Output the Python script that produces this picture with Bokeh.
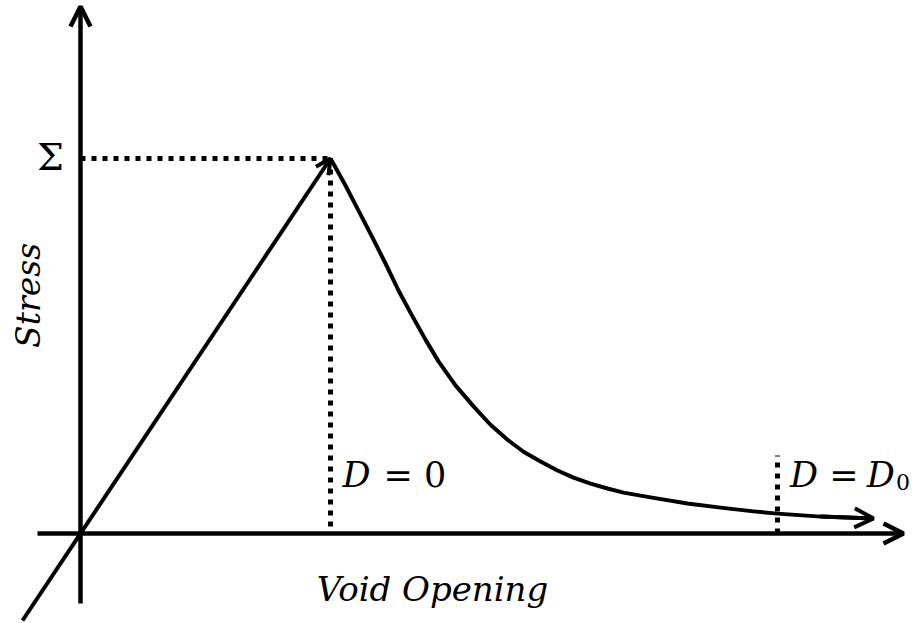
from bokeh.plotting import figure
from bokeh.models import Arrow, OpenHead, Label, Range1d
from bokeh.embed import file_html
from bokeh.resources import INLINE

# Normalised units: opening and stress are scaled so that the peak sits at (1, 1)
peak_opening = 1.0
peak_stress = 1.0

# Elastic loading branch, drawn through the origin
load_opening = [-0.232, 1.0]
load_stress = [-0.232, 1.0]

# Softening branch after the peak (damage growing from D = 0 to D = D0)
soft_opening = [1.0, 1.06, 1.112, 1.168, 1.22, 1.272, 1.328, 1.38, 1.432, 1.5,
                1.572, 1.64, 1.708, 1.772, 1.84, 1.908, 1.972, 2.04, 2.108, 2.172,
                2.24, 2.292, 2.428, 2.56, 2.692, 2.788, 2.96, 3.172]
soft_stress = [1.0, 0.928, 0.861, 0.789, 0.72, 0.648, 0.579, 0.517, 0.459, 0.395,
               0.339, 0.290, 0.250, 0.218, 0.192, 0.168, 0.149, 0.133, 0.12, 0.109,
               0.101, 0.095, 0.08, 0.069, 0.059, 0.053, 0.045, 0.040]

# Opening at which the damage reaches D0
d0_opening = 2.788

# Axis extents (hand-drawn axes with arrow heads)
x_axis_span = [-0.172, 3.292]
y_axis_span = [-0.187, 1.405]

INK = "black"
SERIF = "DejaVu Serif"
DOTS = "5 6"

p = figure(width=914, height=623, output_backend="svg", toolbar_location=None,
           x_range=Range1d(-0.32, 3.336), y_range=Range1d(-0.24, 1.4213),
           x_axis_location=None, y_axis_location=None,
           min_border=0, min_border_left=0, min_border_right=0,
           min_border_top=0, min_border_bottom=0)
p.grid.visible = False
p.outline_line_color = None
p.background_fill_color = "white"
p.border_fill_color = "white"

# Axes with open arrow heads
p.add_layout(Arrow(end=OpenHead(size=20, line_width=4.5, line_color=INK),
                   x_start=x_axis_span[0], y_start=0, x_end=x_axis_span[1], y_end=0,
                   line_width=4.5, line_color=INK))
p.add_layout(Arrow(end=OpenHead(size=20, line_width=4.5, line_color=INK),
                   x_start=0, y_start=y_axis_span[0], x_end=0, y_end=y_axis_span[1],
                   line_width=4.5, line_color=INK))

# Dotted guides to the peak and to the D0 point
p.line([0, peak_opening], [peak_stress, peak_stress], line_width=5, line_dash=DOTS,
       line_color=INK)
p.line([peak_opening, peak_opening], [peak_stress, 0], line_width=5, line_dash=DOTS,
       line_color=INK)
p.line([d0_opening, d0_opening], [0, 0.208], line_width=5, line_dash=DOTS,
       line_color=INK)

# Loading branch with arrow at the peak
p.add_layout(Arrow(end=OpenHead(size=15, line_width=4, line_color=INK),
                   x_start=load_opening[0], y_start=load_stress[0],
                   x_end=load_opening[-1], y_end=load_stress[-1],
                   line_width=4, line_color=INK))

# Softening branch with arrow at its end
p.line(soft_opening, soft_stress, line_width=4, line_color=INK, line_join="round")
p.add_layout(Arrow(end=OpenHead(size=19, line_width=4, line_color=INK),
                   x_start=soft_opening[-2], y_start=soft_stress[-2],
                   x_end=soft_opening[-1], y_end=soft_stress[-1],
                   line_width=4, line_color=INK))

def label(x, y, text, size, style="normal", align="left", baseline="alphabetic", angle=0):
    p.add_layout(Label(x=x, y=y, text=text, text_font=SERIF, text_font_size=f"{size}px",
                       text_font_style=style, text_color=INK, text_align=align,
                       text_baseline=baseline, angle=angle, angle_units="deg"))

# Peak stress marker
label(-0.12, 1.005, "Σ", 38, align="center", baseline="middle")

# Axis titles
label(-0.21, 0.635, "Stress", 33, style="italic", align="center", baseline="middle", angle=90)
label(1.408, -0.147, "Void Opening", 34, style="italic", align="center")

# Damage annotations
label(peak_opening + 0.048, 0.155, "D", 35, style="italic")
label(1.212, 0.155, "= 0", 35)
label(d0_opening + 0.05, 0.155, "D", 35, style="italic")
label(2.995, 0.155, "=", 35)
label(3.145, 0.155, "D", 35, style="italic")
label(3.262, 0.137, "0", 22)

open("out.html", "w").write(file_html(p, INLINE))
